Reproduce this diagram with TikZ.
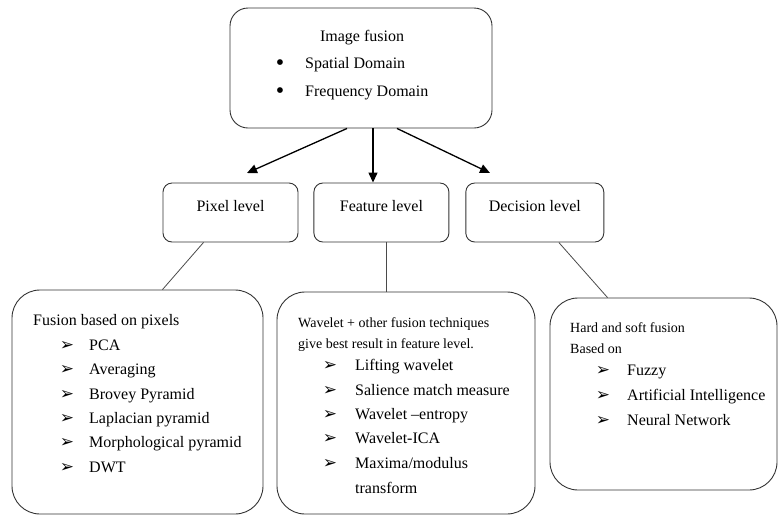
\documentclass[tikz,border=0pt]{standalone}
\usepackage{fontspec}
\setmainfont{Liberation Serif}
\newfontfamily\dejavu{DejaVu Sans}
\usepackage{xcolor}
\usepackage{tikz}
\usetikzlibrary{positioning,arrows.meta,calc}
\definecolor{ifLine}{HTML}{333333}
\definecolor{ifLink}{HTML}{4A4A4A}
\tikzset{
  topbox/.style={draw=ifLine, line width=0.9pt, rounded corners=18pt, minimum width=262pt, minimum height=120pt},
  lvlbox/.style={draw=ifLine, line width=0.9pt, rounded corners=9pt, minimum width=135pt, minimum height=59pt},
  listbox/.style={draw=ifLine, line width=0.9pt, rounded corners=28pt},
  arr/.style={-{Triangle[length=10pt,width=9pt]}, line width=1.3pt, black},
  link/.style={line width=0.8pt, ifLink},
  txt/.style={inner sep=0pt, anchor=base, font=\fontsize{16}{19}\selectfont},
  itm/.style={inner sep=0pt, anchor=base west, font=\fontsize{16}{19}\selectfont},
  note/.style={inner sep=0pt, anchor=base west, font=\fontsize{14}{17}\selectfont},
  dot/.style={inner sep=0pt, anchor=base, font=\fontsize{24}{26}\selectfont},
  bul/.style={inner sep=0pt, anchor=base, font=\dejavu\fontsize{17}{19}\selectfont},
}
\newcommand{\arrbul}{➢}

\begin{document}
\begin{tikzpicture}[x=1pt, y=-1pt]
  \useasboundingbox (0,0) rectangle (778,515);
  % boxes
  \node[topbox] (top) at (361,68) {};
  \node[lvlbox] (pix) at (230.5,212.5) {};
  \node[lvlbox, right=15pt of pix] (feat) {};
  \node[lvlbox, minimum width=138pt, right=16pt of feat] (dec) {};
  \node[listbox, minimum width=251pt, minimum height=224pt] (pixb) at (137.5,402) {};
  \node[listbox, minimum width=258pt, minimum height=222pt] (featb) at (406,403) {};
  \node[listbox, minimum width=227pt, minimum height=192pt] (decb) at (663.5,394) {};
  % top box text
  \node[txt] (tTitle) at (362,41.5) {Image fusion};
  \node[dot] (tB1) at (280,70) {\textbullet};
  \node[itm] (tSpat) at (305,68) {Spatial Domain};
  \node[dot] (tB2) at (280,98) {\textbullet};
  \node[itm] (tFreq) at (305,96) {Frequency Domain};
  % level labels
  \node[txt] (lPix) at (pix.center |- 0,211) {Pixel level};
  \node[txt] (lFeat) at (feat.center |- 0,211) {Feature level};
  \node[txt] (lDec) at (dec.center |- 0,211) {Decision level};
  % arrows
  \coordinate (a1) at (247,173);
  \coordinate (a3) at (490,173);
  \draw[arr] ([xshift=-14pt]top.south) -- (a1);
  \draw[arr] ([xshift=12pt]top.south) -- ([xshift=12pt]top.south |- feat.north);
  \draw[arr] ([xshift=36pt]top.south) -- (a3);
  % links
  \draw[link] ([xshift=-27pt]pix.south) -- ([xshift=25pt]pixb.north);
  \draw[link] ([xshift=4.5pt]feat.south) -- ([xshift=4.5pt]feat.south |- featb.north);
  \draw[link] ([xshift=24pt]dec.south) -- ([xshift=-56pt]decb.north);
  % pixel list
  \node[itm] (pHead) at (33,325) {Fusion based on pixels};
  \node[bul] (pB1) at (67,350) {\arrbul};
  \node[itm] (pI1) at (89,350) {PCA};
  \node[bul] (pB2) at (67,374.5) {\arrbul};
  \node[itm] (pI2) at (89,374.5) {Averaging};
  \node[bul] (pB3) at (67,399) {\arrbul};
  \node[itm] (pI3) at (89,399) {Brovey Pyramid};
  \node[bul] (pB4) at (67,423) {\arrbul};
  \node[itm] (pI4) at (89,423) {Laplacian pyramid};
  \node[bul] (pB5) at (67,447.5) {\arrbul};
  \node[itm] (pI5) at (89,447.5) {Morphological pyramid};
  \node[bul] (pB6) at (67,472) {\arrbul};
  \node[itm] (pI6) at (89,472) {DWT};
  % feature list
  \node[note] (fHead1) at (298,327) {Wavelet + other fusion techniques};
  \node[note] (fHead2) at (298,348) {give best result in feature level.};
  \node[bul] (fB1) at (330,370) {\arrbul};
  \node[itm] (fI1) at (355,370) {Lifting wavelet};
  \node[bul] (fB2) at (330,395) {\arrbul};
  \node[itm] (fI2) at (355,395) {Salience match measure};
  \node[bul] (fB3) at (330,419) {\arrbul};
  \node[itm] (fI3) at (355,419) {Wavelet –entropy};
  \node[bul] (fB4) at (330,443) {\arrbul};
  \node[itm] (fI4) at (355,443) {Wavelet-ICA};
  \node[bul] (fB5) at (330,468) {\arrbul};
  \node[itm] (fI5) at (355,468) {Maxima/modulus};
  \node[itm] (fI5b) at (355,493) {transform};
  % decision list
  \node[note] (dHead1) at (570,332) {Hard and soft fusion};
  \node[note] (dHead2) at (570,353) {Based on};
  \node[bul] (dB1) at (603,375) {\arrbul};
  \node[itm] (dI1) at (627,375) {Fuzzy};
  \node[bul] (dB2) at (603,400) {\arrbul};
  \node[itm] (dI2) at (627,400) {Artificial Intelligence};
  \node[bul] (dB3) at (603,425) {\arrbul};
  \node[itm] (dI3) at (627,425) {Neural Network};
\end{tikzpicture}
\end{document}
